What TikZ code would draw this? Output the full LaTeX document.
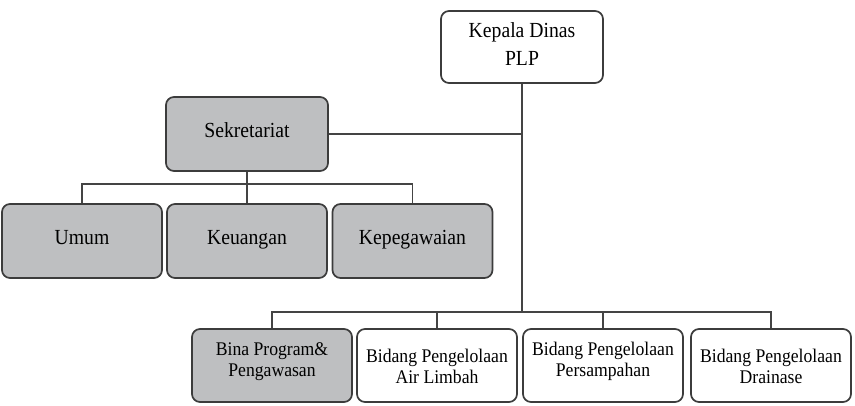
\documentclass[tikz,border=0pt]{standalone}
\usepackage{fontspec}
\setmainfont{Liberation Serif}[FakeStretch=0.915]
\definecolor{boxgray}{HTML}{BEBFC1}
\definecolor{edgegray}{HTML}{3C3C3C}
\definecolor{linegray}{HTML}{444444}
\tikzset{
  unit/.style={draw=edgegray,line width=1.7pt,rounded corners=8pt,inner sep=0pt,
    minimum width=160pt,minimum height=73pt},
  topunit/.style={unit,fill=boxgray,font=\fontsize{21.5}{28}\selectfont},
  single/.style={text height=14.5pt,text depth=6.5pt},
  bidang/.style={unit,fill=white,font=\fontsize{19.3}{21}\selectfont},
  link/.style={draw=linegray,line width=1.3pt}
}
\newcommand{\twolines}[3][0pt]{\raisebox{#1}[0pt][0pt]{\begin{tabular}{@{}c@{}}#2\\#3\end{tabular}}}
\begin{document}
\begin{tikzpicture}[x=1pt,y=-1pt]
  \useasboundingbox (0,0) rectangle (855,406);
  % pimpinan
  \node[topunit,fill=white,minimum width=162pt,minimum height=72pt] (kepala) at (522,47)
    {\twolines[-4.5pt]{Kepala Dinas}{PLP}};
  \node[topunit,single,minimum width=162pt,minimum height=74pt] (sekretariat) at (247,134) {Sekretariat};
  % subbagian
  \node[topunit,single,minimum height=74pt] (umum) at (82,241) {Umum};
  \node[topunit,single,minimum height=74pt] (keuangan) at (247,241) {Keuangan};
  \node[topunit,single,minimum height=74pt] (kepegawaian) at (412.5,241) {Kepegawaian};
  % bidang
  \node[bidang,fill=boxgray] (bina) at (272,365.5) {\twolines[-1.5pt]{Bina Program\&}{Pengawasan}};
  \node[bidang] (airlimbah) at (437,365.5) {\twolines[-8.5pt]{Bidang Pengelolaan}{Air Limbah}};
  \node[bidang] (persampahan) at (603,365.5) {\twolines[-1.5pt]{Bidang Pengelolaan}{Persampahan}};
  \node[bidang] (drainase) at (771,365.5) {\twolines[-8.5pt]{Bidang Pengelolaan}{Drainase}};
  \coordinate (busA) at (247,184);
  \coordinate (busB) at (522,312);
  % garis
  \draw[link] (kepala.south) -- (busB);
  \draw[link] (sekretariat.east) -- (sekretariat.east -| kepala.south);
  \draw[link] (sekretariat.south) -- (busA);
  \draw[link] (umum.north) |- (busA) -| (kepegawaian.north);
  \draw[link] (keuangan.north) -- (busA);
  \draw[link] (bina.north) |- (busB) -| (drainase.north);
  \draw[link] (airlimbah.north) -- (airlimbah.north |- busB);
  \draw[link] (persampahan.north) -- (persampahan.north |- busB);
\end{tikzpicture}
\end{document}
